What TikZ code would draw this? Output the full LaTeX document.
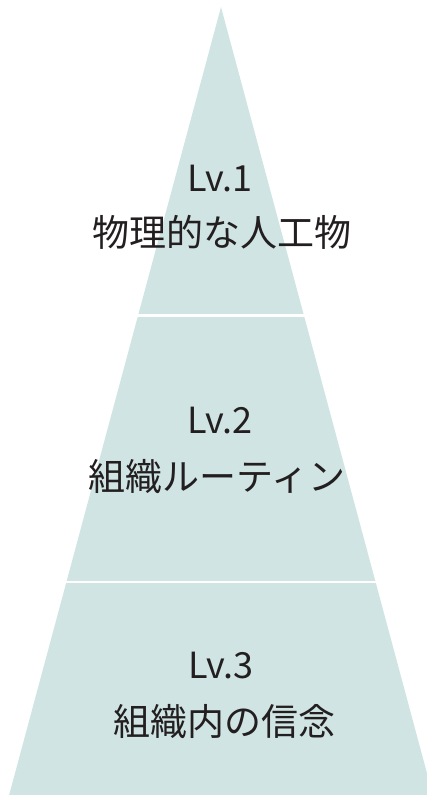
\documentclass[tikz,border=0pt]{standalone}
\usepackage{fontspec}
\setmainfont{Noto Sans CJK JP}
\definecolor{pyr}{HTML}{D0E5E3}
\definecolor{ink}{HTML}{231F20}
\begin{document}
\begin{tikzpicture}[x=1pt,y=-1pt,
  lbl/.style={anchor=base, text=ink, font=\fontsize{37}{42}\selectfont, inner sep=0pt},
  lvl/.style={anchor=base, text=ink, font=\fontsize{36}{40}\selectfont, inner sep=0pt},
  gapline/.style={white, line width=2.5pt}]
\useasboundingbox (0,0) rectangle (427,795);
\clip (0,0) rectangle (427,795);
\coordinate (apex) at (221,7);
\coordinate (bl) at (7.8,800);
\coordinate (br) at (434.2,800);
\fill[pyr] (apex) -- (bl) -- (br) -- cycle;
\coordinate (g1l) at (0,315.3);
\coordinate (g1r) at (427,315.3);
\coordinate (g2l) at (0,582);
\coordinate (g2r) at (427,582);
\draw[gapline] (g1l) -- (g1r);
\draw[gapline] (g2l) -- (g2r);
\node[lvl] (lv1) at (220,191) {Lv.1};
\node[lbl] (t1) at (221.5,246) {物理的な人工物};
\node[lvl] (lv2) at (220,433) {Lv.2};
\node[lbl] (t2) at (217,490) {組織ルーティン};
\node[lvl] (lv3) at (221,678) {Lv.3};
\node[lbl] (t3) at (224,735) {組織内の信念};
\end{tikzpicture}
\end{document}
